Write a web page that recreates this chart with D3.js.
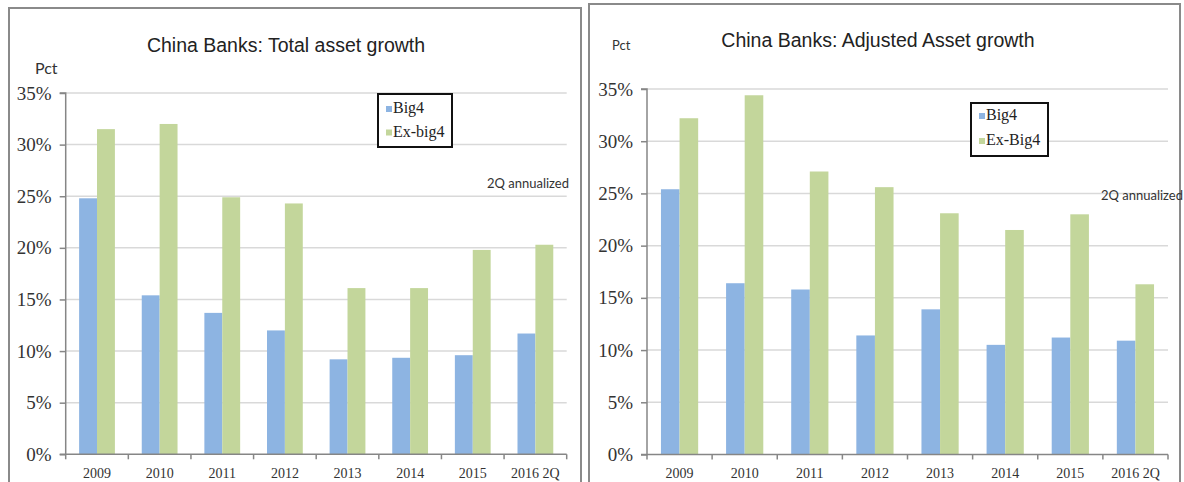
<!DOCTYPE html>
<html>
<head>
<meta charset="utf-8">
<script src="https://cdn.jsdelivr.net/npm/d3@7"></script>
<style>
  html, body { margin: 0; padding: 0; background: #fff; }
  svg { display: block; }
</style>
</head>
<body>
<svg id="chart" width="1184" height="482"></svg>
<script>
// ---- data ----
const categories = ["2009", "2010", "2011", "2012", "2013", "2014", "2015", "2016 2Q"];
const yTicks = [0, 5, 10, 15, 20, 25, 30, 35];

const totalBig4   = [24.8, 15.4, 13.7, 12.0, 9.2, 9.35, 9.6, 11.7];
const totalExBig4 = [31.5, 32.0, 24.9, 24.3, 16.1, 16.1, 19.8, 20.3];

const adjBig4   = [25.4, 16.4, 15.8, 11.4, 13.9, 10.5, 11.2, 10.9];
const adjExBig4 = [32.2, 34.4, 27.1, 25.6, 23.1, 21.5, 23.0, 16.3];

const leftTitle = "China Banks: Total asset growth";
const rightTitle = "China Banks: Adjusted Asset growth";
const leftLegend = ["Big4", "Ex-big4"];
const rightLegend = ["Big4", "Ex-Big4"];
const yUnit = "Pct";
const note = "2Q annualized";

// ---- styles ----
const BLUE = "#8db4e2", GREEN = "#c3d69b";
const svg = d3.select("#chart");
svg.append("rect").attr("width", 1184).attr("height", 482).attr("fill", "#fff");

function drawPanel(o) {
  const g = svg.append("g");
  g.append("rect").attr("x", o.box[0]).attr("y", o.box[1])
    .attr("width", o.box[2] - o.box[0]).attr("height", 600)
    .attr("fill", "#fff").attr("stroke", "#8a8a8a").attr("stroke-width", 2);

  const x = d3.scaleBand().domain(categories).range([o.x0, o.x1]).paddingInner(0).paddingOuter(0);
  const y = d3.scaleLinear().domain([0, 35]).range([o.y0, o.y1]);
  const barW = x.bandwidth() / 3.5;
  const sub = d3.scaleBand().domain(["a", "b"]).range([0, 2 * barW]);

  g.append("g").selectAll("line").data(yTicks.filter(d => d > 0)).join("line")
    .attr("x1", o.x0).attr("x2", o.x1)
    .attr("y1", d => y(d)).attr("y2", d => y(d))
    .attr("stroke", "#d9d9d9").attr("stroke-width", 1.5);

  const series = [{ key: "a", vals: o.s1, color: BLUE }, { key: "b", vals: o.s2, color: GREEN }];
  series.forEach(s => {
    g.append("g").selectAll("rect").data(categories).join("rect")
      .attr("x", (c) => x(c) + (x.bandwidth() - 2 * barW) / 2 + sub(s.key))
      .attr("width", sub.bandwidth())
      .attr("y", (c, i) => y(s.vals[i]))
      .attr("height", (c, i) => y(0) - y(s.vals[i]))
      .attr("fill", s.color);
  });

  const yAxis = d3.axisLeft(y).tickValues(yTicks).tickSize(6).tickPadding(8)
    .tickFormat(d => d + "%");
  const ya = g.append("g").attr("transform", `translate(${o.x0},0)`).call(yAxis);
  ya.select(".domain").attr("stroke", "#868686").attr("stroke-width", 1.5)
    .attr("d", `M-6,${o.y1}H0V${o.y0}H-6`);
  ya.selectAll(".tick line").attr("stroke", "#868686").attr("stroke-width", 1.5);
  ya.selectAll(".tick text").attr("font-family", "'Liberation Serif', 'Times New Roman', serif")
    .attr("font-size", 19).attr("fill", "#333");

  const xAxis = d3.axisBottom(x).tickSize(0).tickPadding(14);
  const xa = g.append("g").attr("transform", `translate(0,${o.y0})`).call(xAxis);
  xa.select(".domain").attr("stroke", "#868686").attr("stroke-width", 1.5).attr("d", `M${o.x0},0H${o.x1}`);
  xa.selectAll(".tick text").attr("font-family", "'Liberation Serif', 'Times New Roman', serif")
    .attr("font-size", 14).attr("fill", "#333");
  const bounds = categories.map(c => x(c)).concat([o.x1]);
  xa.append("g").selectAll("line").data(bounds).join("line")
    .attr("x1", d => d).attr("x2", d => d).attr("y1", 0).attr("y2", 5)
    .attr("stroke", "#868686").attr("stroke-width", 1.5);

  g.append("text").attr("x", o.titleX).attr("y", o.titleY).attr("text-anchor", "middle")
    .attr("font-family", "'Liberation Sans', Arial, sans-serif").attr("font-size", 19.5)
    .attr("fill", "#222").text(o.title);

  g.append("text").attr("x", o.pct[0]).attr("y", o.pct[1])
    .attr("font-family", "Lato, sans-serif").attr("font-size", o.pct[2])
    .attr("fill", "#333").text(yUnit);

  g.append("text").attr("x", o.note[0]).attr("y", o.note[1]).attr("text-anchor", "end")
    .attr("font-family", "Lato, sans-serif").attr("font-size", 13)
    .attr("fill", "#333").text(note);

  const L = o.legend;
  const lg = g.append("g");
  lg.append("rect").attr("x", L.x).attr("y", L.y).attr("width", L.w).attr("height", L.h)
    .attr("fill", "#fff").attr("stroke", "#111").attr("stroke-width", 2);
  [BLUE, GREEN].forEach((col, i) => {
    const by = L.y + L.row0 + i * L.dy;
    lg.append("rect").attr("x", L.x + 8).attr("y", by - 7).attr("width", 6).attr("height", 6).attr("fill", col);
    lg.append("text").attr("x", L.x + 15).attr("y", by)
      .attr("font-family", "'Liberation Serif', 'Times New Roman', serif").attr("font-size", 16)
      .attr("fill", "#222").text(o.legendLabels[i]);
  });
}

drawPanel({
  box: [9, 8, 581], x0: 65.7, x1: 566.7, y0: 454.3, y1: 93,
  s1: totalBig4, s2: totalExBig4, title: leftTitle, titleX: 286, titleY: 52,
  pct: [35, 74, 16], note: [569, 188],
  legend: { x: 378, y: 94, w: 74, h: 53, row0: 19, dy: 23.5 },
  legendLabels: leftLegend
});

drawPanel({
  box: [589, 4, 1180], x0: 647, x1: 1168, y0: 454.5, y1: 89,
  s1: adjBig4, s2: adjExBig4, title: rightTitle, titleX: 878, titleY: 47,
  pct: [612, 50, 13], note: [1183, 200],
  legend: { x: 971, y: 103, w: 77, h: 53, row0: 17, dy: 25 },
  legendLabels: rightLegend
});
</script>
</body>
</html>
